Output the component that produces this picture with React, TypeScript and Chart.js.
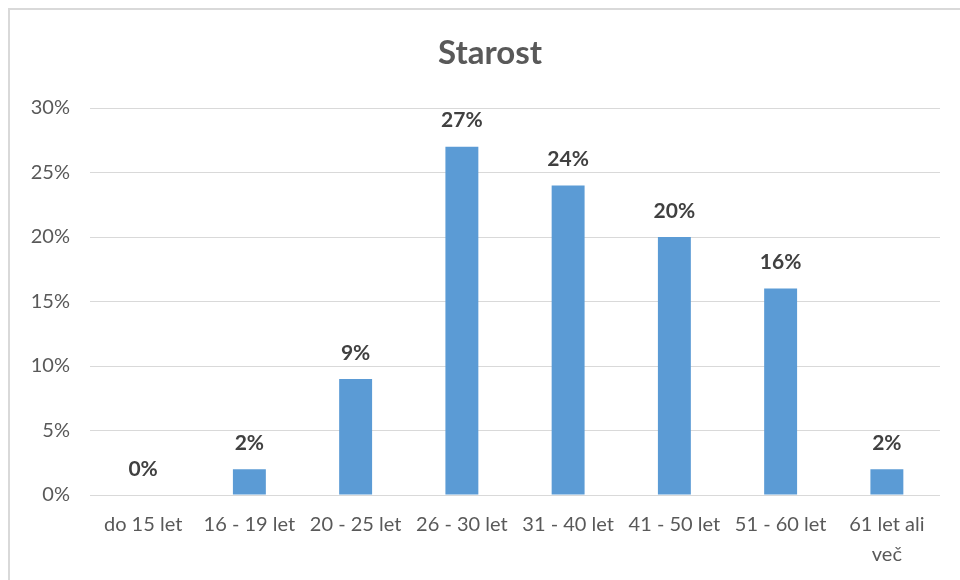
import React, { useEffect, useRef } from "react";
import { Chart, registerables } from "chart.js";

Chart.register(...registerables);

const TITLE = "Starost";
const categories: (string | string[])[] = [
  "do 15 let",
  "16 - 19 let",
  "20 - 25 let",
  "26 - 30 let",
  "31 - 40 let",
  "41 - 50 let",
  "51 - 60 let",
  ["61 let ali", "več"],
];
const values = [0, 2, 9, 27, 24, 20, 16, 2];
const yTicks = [0, 5, 10, 15, 20, 25, 30];

const FONT = "Lato, 'Open Sans', sans-serif";

const labelPlugin = {
  id: "valueLabels",
  afterDatasetsDraw(chart: any) {
    const ctx = chart.ctx;
    const meta = chart.getDatasetMeta(0);
    ctx.save();
    ctx.font = `bold 21px ${FONT}`;
    ctx.fillStyle = "#404040";
    ctx.textAlign = "center";
    ctx.textBaseline = "middle";
    meta.data.forEach((bar: any, i: number) => {
      ctx.fillText(values[i] + "%", bar.x, bar.y - 26);
    });
    ctx.restore();
  },
};

const titlePlugin = {
  id: "customTitle",
  afterDraw(chart: any) {
    const ctx = chart.ctx;
    ctx.save();
    ctx.font = `bold 33px ${FONT}`;
    ctx.fillStyle = "#595959";
    ctx.textAlign = "center";
    ctx.textBaseline = "middle";
    ctx.fillText(TITLE, 480, 43);
    ctx.restore();
  },
};

export default function App() {
  const ref = useRef<HTMLCanvasElement>(null);
  useEffect(() => {
    if (!ref.current) return;
    const chart = new Chart(ref.current, {
      type: "bar",
      data: {
        labels: categories,
        datasets: [
          {
            data: values,
            backgroundColor: "#5B9BD5",
            barPercentage: 0.62,
            categoryPercentage: 0.5,
          },
        ],
      },
      options: {
        responsive: false,
        animation: false,
        layout: { padding: { left: 0, right: 20, top: 98, bottom: 0 } },
        plugins: {
          legend: { display: false },
          title: { display: false },
          tooltip: { enabled: false },
        },
        scales: {
          x: {
            grid: { display: false, drawTicks: false },
            border: { display: false },
            ticks: {
              color: "#595959",
              font: { family: FONT, size: 20, lineHeight: 1.5 },
              padding: 15,
              maxRotation: 0,
              autoSkip: false,
            },
            afterFit(scale: any) {
              scale.height = 85;
            },
          },
          y: {
            min: 0,
            max: 30,
            afterBuildTicks(scale: any) {
              scale.ticks = yTicks.map((v) => ({ value: v }));
            },
            grid: { color: "#d9d9d9", lineWidth: 1, drawTicks: false },
            border: { display: false },
            ticks: {
              color: "#595959",
              font: { family: FONT, size: 20 },
              padding: 20,
              callback: (v: any) => v + "%",
            },
            afterFit(scale: any) {
              scale.width = 80;
            },
          },
        },
      },
      plugins: [labelPlugin, titlePlugin],
    });
    return () => chart.destroy();
  }, []);
  return (
    <div
      style={{
        position: "absolute",
        left: 8,
        top: 8,
        width: 952,
        height: 572,
        borderTop: "2px solid #d9d9d9",
        borderLeft: "2px solid #d9d9d9",
        boxSizing: "border-box",
        background: "#fff",
        overflow: "hidden",
      }}
    >
      <canvas ref={ref} width={950} height={570} style={{ display: "block" }} />
    </div>
  );
}
